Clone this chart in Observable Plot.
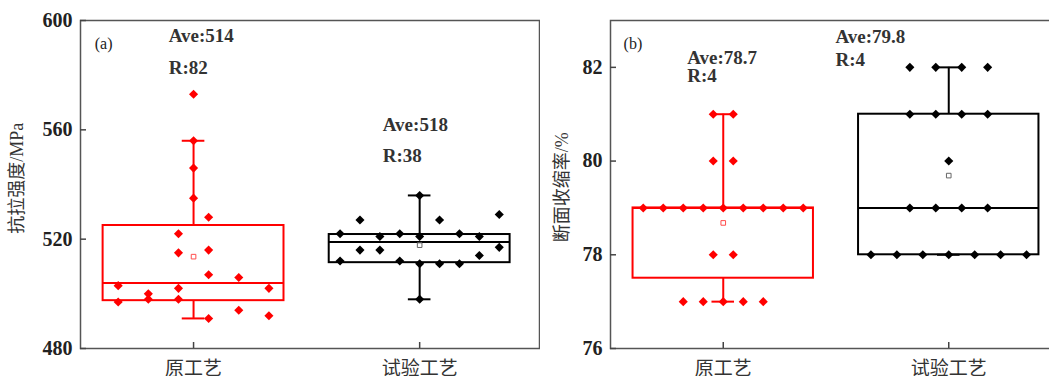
<!DOCTYPE html>
<html><head><meta charset="utf-8">
<script src="https://cdn.jsdelivr.net/npm/d3@7"></script>
<script src="https://cdn.jsdelivr.net/npm/@observablehq/plot@0.6"></script>
<style>
html,body{margin:0;padding:0;background:#fff;overflow:hidden;}
#wrap{display:flex;flex-wrap:nowrap;width:1100px;align-items:flex-start;}
#wrap svg{flex:none;}
</style></head><body><div id="wrap"></div>
<script>
const groups = ["原工艺", "试验工艺"];

// (a) 抗拉强度 / MPa
const tensileOrig = [573,556,546,535,528,522,515,516,507,506,503,502,502,500,497,498,498,494,492,491];
const tensileOrigSlot = [0,0,0,0,1,-1,-1,1,1,3,-5,-1,5,-3,-5,-3,-1,3,5,1];
const tensileTest = [536,529,527,527,522,522,522,521,521,521,516,516,517,514,512,512,511,511,511,498];
const tensileTestSlot = [0,4,-3,1,-4,-1,2,-2,0,3,-3,-2,4,3,-4,-1,0,1,2,0];
// [whisker low, Q1, median, Q3, whisker high, mean]
const tensileBox = [[491,497.5,504,525,556,513.6],[498,511.4,519,521.7,536,517.8]];
const tensileAve = ["Ave:514","Ave:518"];
const tensileRange = ["R:82","R:38"];
const tensileTicks = [480,520,560,600];

// (b) 断面收缩率 / %
const reductionOrig = [81,81,80,80,79,79,79,79,79,79,79,79,79,78,78,77,77,77,77,77];
const reductionOrigSlot = [-0.5,0.5,-0.5,0.5,-4,-3,-2,-1,0,1,2,3,4,-0.5,0.5,-2,-1,0,1,2];
const reductionTest = [82,82,82,82,81,81,81,81,80,79,79,79,79,78,78,78,78,78,78,78];
const reductionTestSlot = [-1.5,-0.5,0.5,1.5,-1.5,-0.5,0.5,1.5,0,-1.5,-0.5,0.5,1.5,-3,-2,-1,0,1,2,3];
const reductionBox = [[77,77.5,79,79,81,78.68],[78,78,79,81,82,79.69]];
const reductionAve = ["Ave:78.7","Ave:79.8"];
const reductionRange = ["R:4","R:4"];
const reductionTicks = [76,78,80,82];

const colors = ["#ff0000", "#000000"];
const meanColors = ["#ff4d4d", "#666666"];
const serif = "'Liberation Serif', 'Noto Sans CJK SC', serif";

function panel(o) {
  const pts = [];
  o.values.forEach((vals, g) => vals.forEach((v, i) => pts.push({g, x: g + 1 + o.slots[g][i] * o.steps[g], y: v})));
  const boxes = o.box.map((b, g) => ({g, x: g + 1, lo: b[0], q1: b[1], med: b[2], q3: b[3], hi: b[4], mean: b[5]}));
  const hw = 0.4, cap = 0.05;
  const ann = [];
  o.ave.forEach((t, g) => ann.push({t, x: o.annX[g], y: o.aveY[g]}));
  o.range.forEach((t, g) => ann.push({t, x: o.annX[g], y: o.rY[g]}));
  return Plot.plot({
    width: o.width, height: 376,
    marginLeft: o.marginLeft, marginRight: 1, marginTop: 20, marginBottom: 28,
    x: {domain: o.xDomain, label: null},
    y: {domain: o.yDomain, label: null},
    color: {type: "identity"},
    style: {fontFamily: serif, fontSize: "20px", color: "#222", background: "#fff"},
    marks: [
      Plot.rect(boxes, {x1: d => d.x - hw, x2: d => d.x + hw, y1: "q1", y2: "q3", stroke: d => colors[d.g], strokeWidth: 2, fill: "none"}),
      Plot.ruleY(boxes, {x1: d => d.x - hw, x2: d => d.x + hw, y: "med", stroke: d => colors[d.g], strokeWidth: 2}),
      Plot.ruleX(boxes, {x: "x", y1: "q3", y2: "hi", stroke: d => colors[d.g], strokeWidth: 2}),
      Plot.ruleX(boxes, {x: "x", y1: "lo", y2: "q1", stroke: d => colors[d.g], strokeWidth: 2}),
      Plot.ruleY(boxes, {x1: d => d.x - cap, x2: d => d.x + cap, y: "hi", stroke: d => colors[d.g], strokeWidth: 2}),
      Plot.ruleY(boxes, {x1: d => d.x - cap, x2: d => d.x + cap, y: "lo", stroke: d => colors[d.g], strokeWidth: 2}),
      Plot.dot(pts, {x: "x", y: "y", symbol: "diamond2", r: 4.1, fill: d => colors[d.g], stroke: null}),
      Plot.dot(boxes, {x: "x", y: "mean", symbol: "square", r: 2.6, stroke: d => meanColors[d.g], strokeWidth: 1, fill: "white"}),
      Plot.text(ann, {x: "x", y: "y", text: "t", textAnchor: "start", fontSize: 19, fontWeight: "bold", fill: "#333"}),
      Plot.text([o.tag], {x: o.tagX, y: o.tagY, textAnchor: "start", fontSize: 16, fill: "#222"}),
      Plot.frame({stroke: "#555", strokeWidth: 1.5}),
      Plot.axisY({ticks: o.yTicks, tickFormat: d => String(d), label: null, tickSize: -6, tickPadding: 14, fontSize: 20, fontWeight: "bold", fill: "#222", stroke: "#444", strokeWidth: 1.5}),
      Plot.axisX({ticks: [1, 2], tickFormat: d => groups[d - 1], label: null, tickSize: -6, tickPadding: 19, fontSize: 19, fill: "#333", stroke: "#444", strokeWidth: 1.5, fontFamily: "'Noto Sans CJK SC', sans-serif"}),
      Plot.text([o.yLabel], {x: o.labelX, y: o.labelY, rotate: -90, fontSize: 18, fill: "#333"})
    ]
  });
}

const wrap = document.getElementById("wrap");
wrap.append(panel({
  values: [tensileOrig, tensileTest], slots: [tensileOrigSlot, tensileTestSlot], steps: [1/15, 0.088],
  box: tensileBox, ave: tensileAve, range: tensileRange,
  annX: [0.89, 1.837], aveY: [594.2, 561.9], rY: [582.6, 550.4],
  tag: "(a)", tagX: 0.563, tagY: 591.6,
  width: 540, marginLeft: 80, xDomain: [0.5, 2.53], yDomain: [480, 600], yTicks: tensileTicks,
  yLabel: "抗拉强度/MPa", labelX: 0.2215, labelY: 542.3
}));
wrap.append(panel({
  values: [reductionOrig, reductionTest], slots: [reductionOrigSlot, reductionTestSlot], steps: [0.0887, 0.115],
  box: reductionBox, ave: reductionAve, range: reductionRange,
  annX: [0.84, 1.498], aveY: [82.2, 82.64], rY: [81.81, 82.16],
  tag: "(b)", tagX: 0.558, tagY: 82.51,
  width: 522, marginLeft: 70, xDomain: [0.5, 2.5], yDomain: [76, 83], yTicks: reductionTicks,
  yLabel: "断面收缩率/%", labelX: 0.287, labelY: 79.44
}));
</script>
</body></html>
